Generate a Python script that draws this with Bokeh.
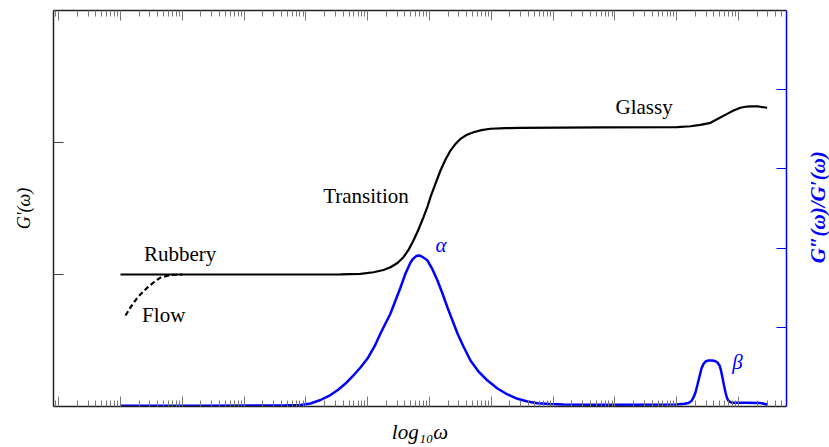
import math
from bokeh.plotting import figure
from bokeh.layouts import row
from bokeh.models import Range1d, LinearAxis, FixedTicker, Label
from bokeh.embed import file_html
from bokeh.resources import INLINE

# ---- data (x = log10 omega, arbitrary decade origin) ----
storage_logw = [0.000, 1.294, 2.913, 3.560, 3.883, 4.094, 4.256, 4.369, 4.482, 4.579,
                4.660, 4.741, 4.822, 4.903, 4.968, 5.016, 5.097, 5.178, 5.259, 5.340,
                5.421, 5.502, 5.599, 5.712, 5.841, 5.987, 6.230, 6.472, 7.767, 9.008,
                9.223, 9.385, 9.547, 9.676, 9.817, 9.919, 10.032, 10.113, 10.194, 10.324,
                10.464]
storage_G = [1.000, 1.000, 1.000, 1.0015, 1.005, 1.017, 1.034, 1.055, 1.087, 1.131,
             1.186, 1.258, 1.341, 1.434, 1.515, 1.586, 1.689, 1.788, 1.871, 1.939,
             1.989, 2.028, 2.057, 2.078, 2.094, 2.104, 2.109, 2.111, 2.114, 2.116,
             2.123, 2.133, 2.149, 2.182, 2.217, 2.242, 2.263, 2.271, 2.274, 2.273,
             2.263]

flow_logw = [0.081, 0.160, 0.275, 0.437, 0.550, 0.647, 0.810, 1.000]
flow_G = [0.689, 0.750, 0.826, 0.902, 0.945, 0.977, 0.996, 1.000]

loss_logw = [0.000, 1.294, 2.265, 2.670, 2.913, 3.074, 3.236, 3.398, 3.528, 3.641,
             3.754, 3.883, 3.997, 4.110, 4.207, 4.288, 4.369, 4.450, 4.531, 4.612,
             4.693, 4.725, 4.757, 4.790, 4.822, 4.854, 4.887, 4.919, 4.968, 5.049,
             5.129, 5.210, 5.291, 5.372, 5.453, 5.550, 5.663, 5.793, 5.939, 6.100,
             6.262, 6.424, 6.586, 6.748, 6.958, 7.168, 7.767, 8.997, 9.126, 9.191,
             9.239, 9.272, 9.304, 9.337, 9.369, 9.401, 9.434, 9.466, 9.515, 9.579,
             9.628, 9.660, 9.693, 9.717, 9.741, 9.766, 9.790, 9.814, 9.838, 9.871,
             9.919, 10.113, 10.356, 10.464]
loss_ratio = [0.009, 0.009, 0.013, 0.015, 0.019, 0.038, 0.082, 0.145, 0.215, 0.290,
              0.379, 0.492, 0.606, 0.758, 0.922, 1.048, 1.174, 1.338, 1.503, 1.679,
              1.818, 1.856, 1.881, 1.900, 1.907, 1.903, 1.888, 1.872, 1.843, 1.730,
              1.591, 1.427, 1.250, 1.086, 0.922, 0.758, 0.581, 0.442, 0.328, 0.227,
              0.152, 0.097, 0.063, 0.042, 0.032, 0.025, 0.021, 0.025, 0.034, 0.044,
              0.069, 0.114, 0.177, 0.278, 0.379, 0.480, 0.537, 0.568, 0.581, 0.581,
              0.572, 0.556, 0.518, 0.455, 0.366, 0.265, 0.177, 0.107, 0.072, 0.054,
              0.047, 0.047, 0.044, 0.025]

region_texts = ["Rubbery", "Flow", "Transition", "Glassy"]
region_x = [0.380, 0.350, 3.280, 8.010]
region_y = [1.152, 0.692, 1.594, 2.266]

relax_texts = ["α", "β"]
relax_x = [5.097, 9.900]
relax_y = [2.036, 0.556]

decade_ticks = list(range(-1, 11))
left_ticks = [1, 2]
right_ticks = [1, 2, 3, 4]

x_lo, x_hi = -1.084, 10.777
minor_ticks = [d + math.log10(k) for d in range(-2, 11) for k in range(2, 10)
               if x_lo < d + math.log10(k) < x_hi]

FONT = "Liberation Serif"

p = figure(width=805, height=447, x_range=Range1d(x_lo, x_hi), y_range=Range1d(0, 3),
           output_backend="svg", toolbar_location=None,
           x_axis_location=None, y_axis_location=None,
           min_border_left=53, min_border_right=19, min_border_top=10, min_border_bottom=41)
p.extra_y_ranges = {"ratio": Range1d(0, 5)}
p.grid.visible = False
p.outline_line_color = None
p.background_fill_color = "white"
p.border_fill_color = "white"


def hide_tick_labels(ax):
    ax.major_label_text_font_size = "1px"
    ax.major_label_text_color = None
    ax.major_label_standoff = 0


def style_x(ax):
    hide_tick_labels(ax)
    ax.major_tick_in = 10
    ax.major_tick_out = 0
    ax.minor_tick_in = 6
    ax.minor_tick_out = 0
    ax.major_tick_line_color = "#777777"
    ax.minor_tick_line_color = "#777777"
    ax.axis_line_color = "#222222"
    ax.axis_line_width = 1.5


bottom = LinearAxis(ticker=FixedTicker(ticks=decade_ticks, minor_ticks=minor_ticks),
                    axis_label="log₁₀ω")
style_x(bottom)
bottom.axis_label_text_font = FONT
bottom.axis_label_text_font_style = "italic"
bottom.axis_label_text_font_size = "21px"
bottom.axis_label_standoff = 13
bottom.axis_label_text_color = "black"
p.add_layout(bottom, "below")

top = LinearAxis(ticker=FixedTicker(ticks=decade_ticks, minor_ticks=minor_ticks))
style_x(top)
p.add_layout(top, "above")

left = LinearAxis(ticker=FixedTicker(ticks=left_ticks, minor_ticks=[]), axis_label="G'(ω)")
hide_tick_labels(left)
left.major_tick_in = 10
left.major_tick_out = 0
left.minor_tick_line_color = None
left.major_tick_line_color = "#444444"
left.axis_line_color = "#222222"
left.axis_line_width = 1.5
left.axis_label_text_font = FONT
left.axis_label_text_font_style = "italic"
left.axis_label_text_font_size = "18px"
left.axis_label_standoff = 20
left.axis_label_text_color = "black"
p.add_layout(left, "left")

right = LinearAxis(y_range_name="ratio", ticker=FixedTicker(ticks=right_ticks, minor_ticks=[]))
hide_tick_labels(right)
right.major_tick_in = 10
right.major_tick_out = 0
right.minor_tick_line_color = None
right.major_tick_line_color = "blue"
right.axis_line_color = "blue"
right.axis_line_width = 1.5
p.add_layout(right, "right")

p.line(storage_logw, storage_G, line_color="black", line_width=2.2)
p.line(flow_logw, flow_G, line_color="black", line_width=2.2, line_dash="5 3")
p.line(loss_logw, loss_ratio, y_range_name="ratio", line_color="blue", line_width=2.5)

for t, x, y in zip(region_texts, region_x, region_y):
    p.add_layout(Label(x=x, y=y, text=t, text_font=FONT, text_font_size="21px",
                       text_color="black", text_align="left", text_baseline="alphabetic"))

for t, x, y in zip(relax_texts, relax_x, relax_y):
    p.add_layout(Label(x=x, y=y, y_range_name="ratio", text=t, text_font=FONT,
                       text_font_size="21px", text_font_style="italic", text_color="blue",
                       text_align="left", text_baseline="alphabetic"))

# narrow strip holding the right-axis title, reading bottom-to-top
side = figure(width=24, height=447, x_range=Range1d(0, 24), y_range=Range1d(0, 447),
              output_backend="svg", toolbar_location=None,
              x_axis_location=None, y_axis_location=None, min_border=0)
side.grid.visible = False
side.outline_line_color = None
side.background_fill_color = "white"
side.border_fill_color = "white"
side.add_layout(Label(x=12, y=225, text="G″(ω)/G′(ω)", angle=math.pi / 2,
                      text_font=FONT, text_font_size="21px", text_font_style="bold italic",
                      text_color="blue", text_align="center", text_baseline="middle"))

layout = row(p, side)
open("out.html", "w").write(file_html(layout, INLINE))
